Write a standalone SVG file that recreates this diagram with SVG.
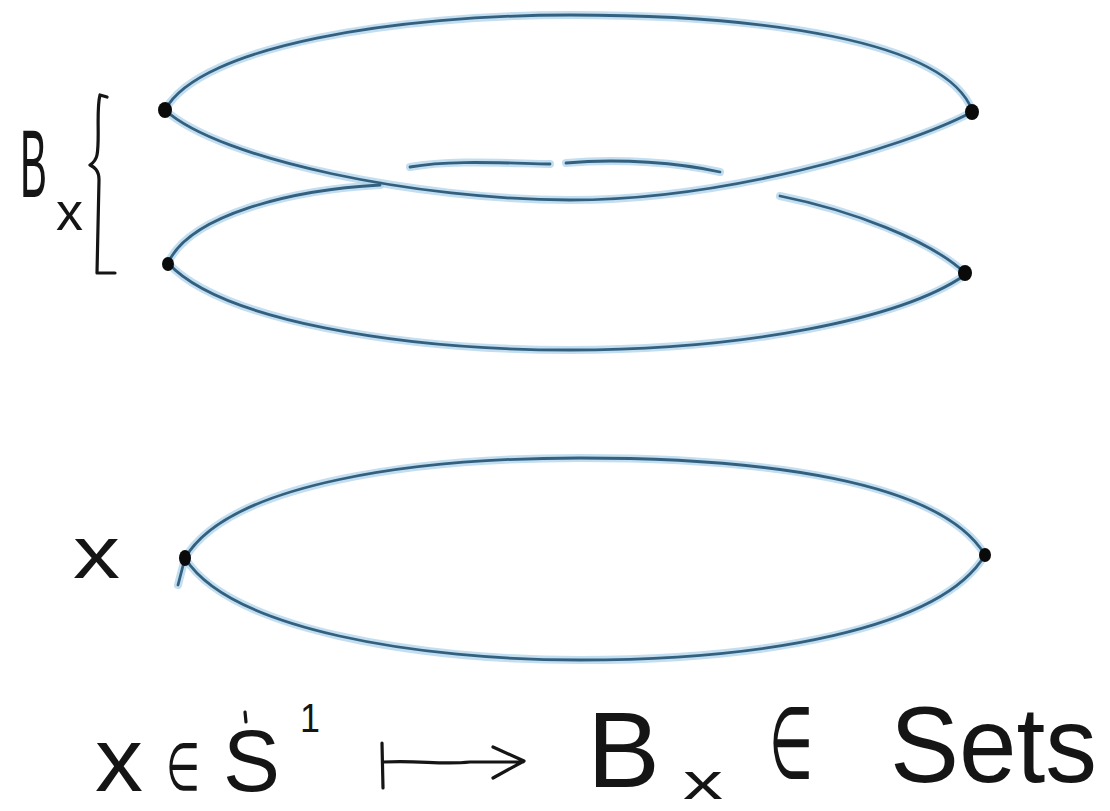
<svg xmlns="http://www.w3.org/2000/svg" width="1110" height="811" viewBox="0 0 1110 811">
<style>
.glow{fill:none;stroke:#a8d0ea;stroke-width:8;stroke-linecap:round;stroke-linejoin:round;opacity:0.7}
.core{fill:none;stroke:#33607e;stroke-width:2.8;stroke-linecap:round;stroke-linejoin:round}
.ink{fill:none;stroke:#151515;stroke-width:3.2;stroke-linecap:round;stroke-linejoin:round}
.dot{fill:#0a0a0a}
.t{font-family:"Liberation Sans","DejaVu Sans",sans-serif;fill:#151515}
.m{font-family:"DejaVu Sans","Liberation Sans",sans-serif;fill:#151515}
</style>
<defs>
<path id="aTop" d="M165,110 C200,45 400,15 570,15 C760,15 945,40 972,110"/>
<path id="aBot" d="M165,110 C220,160 420,200 570,200 C720,200 900,150 972,112"/>
<path id="bTopL" d="M168,263 C190,215 290,190 380,185"/>
<path id="bDash1" d="M410,167 C450,160 500,163 550,164"/>
<path id="bDash2" d="M566,163 C620,158 680,163 720,172"/>
<path id="bTopR" d="M780,196 C850,210 930,240 965,273"/>
<path id="bBot" d="M168,263 C220,320 400,350 570,350 C740,350 900,320 965,275"/>
<path id="cTop" d="M185,558 C230,482 420,458 580,458 C760,458 940,480 985,555"/>
<path id="cBot" d="M185,558 C230,630 420,660 580,660 C760,660 940,630 985,555"/>
<path id="cTail" d="M185,558 L178,585"/>
</defs>
<g id="connectors">
<use href="#aTop" class="glow"/><use href="#aBot" class="glow"/>
<use href="#bTopL" class="glow"/><use href="#bDash1" class="glow"/><use href="#bDash2" class="glow"/><use href="#bTopR" class="glow"/><use href="#bBot" class="glow"/>
<use href="#cTop" class="glow"/><use href="#cBot" class="glow"/><use href="#cTail" class="glow"/>
<use href="#aTop" class="core"/><use href="#aBot" class="core"/>
<use href="#bTopL" class="core"/><use href="#bDash1" class="core"/><use href="#bDash2" class="core"/><use href="#bTopR" class="core"/><use href="#bBot" class="core"/>
<use href="#cTop" class="core"/><use href="#cBot" class="core"/><use href="#cTail" class="core"/>
</g>
<g id="fiber-points">
<ellipse class="dot" cx="165" cy="110" rx="7" ry="8"/>
<ellipse class="dot" cx="972" cy="112" rx="7" ry="8"/>
<ellipse class="dot" cx="168" cy="264" rx="6" ry="7"/>
<ellipse class="dot" cx="965" cy="273" rx="7" ry="8"/>
</g>
<g id="base-points">
<ellipse class="dot" cx="185" cy="558" rx="6" ry="8"/>
<ellipse class="dot" cx="985" cy="555" rx="6" ry="7"/>
</g>
<g id="label-Bx">
<text class="t" x="20" y="197" font-size="97" textLength="27" lengthAdjust="spacingAndGlyphs">B</text>
<text class="t" x="56" y="230" font-size="54" textLength="27" lengthAdjust="spacingAndGlyphs">x</text>
<path class="ink" d="M107,97 L100,95 C96,110 100,140 97,155 C96,160 93,163 90,165 C94,167 99,170 99,180 L97,273 L115,273"/>
</g>
<g id="label-x">
<text class="t" x="73" y="578" font-size="75" textLength="47" lengthAdjust="spacingAndGlyphs">x</text>
</g>
<g id="formula">
<text class="t" x="95" y="791" font-size="90" textLength="48" lengthAdjust="spacingAndGlyphs">x</text>
<text class="m" x="166" y="790" font-size="66" textLength="34" lengthAdjust="spacingAndGlyphs">∈</text>
<text class="t" x="223" y="791" font-size="88" textLength="57" lengthAdjust="spacingAndGlyphs">S</text>
<path class="ink" d="M245,712 L246,722"/>
<text class="t" x="300" y="732" font-size="40" textLength="20" lengthAdjust="spacingAndGlyphs">1</text>
<path class="ink" d="M382,743 L383,788 M383,762 C420,760 440,765 470,762 L523,762 M493,747 L524,761 L493,778"/>
<text class="t" x="587" y="787" font-size="108" textLength="73" lengthAdjust="spacingAndGlyphs">B</text>
<text class="t" x="683" y="799" font-size="52" textLength="40" lengthAdjust="spacingAndGlyphs">x</text>
<text class="m" x="769" y="778" font-size="100" textLength="44" lengthAdjust="spacingAndGlyphs">∈</text>
<text class="t" x="890" y="782" font-size="108" textLength="207" lengthAdjust="spacingAndGlyphs">Sets</text>
</g>
</svg>
